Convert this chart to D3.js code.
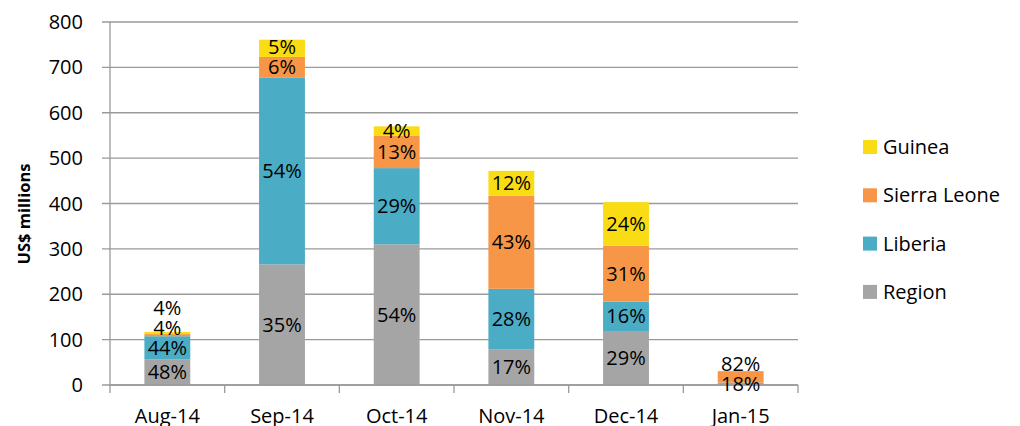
<!DOCTYPE html>
<html lang="en">
<head>
  <meta charset="UTF-8">
  <title>US$ millions by month</title>
  <script src="https://d3js.org/d3.v7.min.js"></script>
  <style>
    body, html { margin: 0; background: #fff; }
    svg { display: block; font-family: "Open Sans", "Noto Sans", sans-serif; }
  </style>
</head>
<body>
  <svg width="1020" height="426"></svg>
  <script>
    // Data (US$ millions)
    const months = ["Aug-14", "Sep-14", "Oct-14", "Nov-14", "Dec-14", "Jan-15"];
    const seriesNames = ["Region", "Liberia", "Sierra Leone", "Guinea"];
    const region      = [56, 266, 310, 79, 119, 5.5];
    const liberia     = [51.5, 411, 168, 133, 64.5, 0];
    const sierraLeone = [4.7, 46, 71, 205, 123.5, 25];
    const guinea      = [4.7, 38, 21, 55, 96, 0];
    const pctLabels = {
      "Region":       ["48%", "35%", "54%", "17%", "29%", "18%"],
      "Liberia":      ["44%", "54%", "29%", "28%", "16%", ""],
      "Sierra Leone": ["4%", "6%", "13%", "43%", "31%", "82%"],
      "Guinea":       ["4%", "5%", "4%", "12%", "24%", ""]
    };
    const yTicks = [0, 100, 200, 300, 400, 500, 600, 700, 800];

    const colors = {
      "Region": "#a5a5a5",
      "Liberia": "#4bacc6",
      "Sierra Leone": "#f79646",
      "Guinea": "#fadc14"
    };

    const table = months.map((m, i) => ({
      month: m,
      "Region": region[i],
      "Liberia": liberia[i],
      "Sierra Leone": sierraLeone[i],
      "Guinea": guinea[i]
    }));

    const svg = d3.select("svg");
    const margin = {top: 22, left: 110, right: 222, bottom: 41};
    const width = 1020 - margin.left - margin.right,
          height = 426 - margin.top - margin.bottom;

    const x = d3.scaleBand().domain(months).range([0, width]).paddingInner(0.6).paddingOuter(0.3);
    const y = d3.scaleLinear().domain([0, 800]).range([height, 0]);

    const g = svg.append("g").attr("transform", `translate(${margin.left},${margin.top})`);

    // gridlines
    g.append("g")
      .selectAll("line")
      .data(yTicks)
      .join("line")
      .attr("x1", -8).attr("x2", width)
      .attr("y1", d => y(d)).attr("y2", d => y(d))
      .attr("stroke", "#9a9a9a").attr("stroke-width", 1.3);

    // y axis line + labels
    g.append("line").attr("x1", 0).attr("x2", 0).attr("y1", 0).attr("y2", height)
      .attr("stroke", "#9a9a9a").attr("stroke-width", 1.3);
    g.append("g").selectAll("text")
      .data(yTicks)
      .join("text")
      .attr("x", -27).attr("y", d => y(d))
      .attr("dy", "0.35em").attr("text-anchor", "end")
      .attr("font-size", 20).attr("fill", "#000")
      .text(d => d);

    // stacked bars
    const stack = d3.stack().keys(seriesNames)(table);
    const layer = g.append("g").selectAll("g")
      .data(stack)
      .join("g")
      .attr("fill", d => colors[d.key]);
    layer.selectAll("rect")
      .data(d => d)
      .join("rect")
      .attr("x", d => x(d.data.month))
      .attr("width", x.bandwidth())
      .attr("y", d => y(d[1]))
      .attr("height", d => y(d[0]) - y(d[1]));

    // x axis
    g.append("line").attr("x1", 0).attr("x2", width).attr("y1", height).attr("y2", height)
      .attr("stroke", "#9a9a9a").attr("stroke-width", 1.3);
    g.append("g").selectAll("line")
      .data(d3.range(months.length + 1))
      .join("line")
      .attr("x1", i => i * width / months.length).attr("x2", i => i * width / months.length)
      .attr("y1", height).attr("y2", height + 8)
      .attr("stroke", "#9a9a9a").attr("stroke-width", 1.3);
    g.append("g").selectAll("text")
      .data(months)
      .join("text")
      .attr("x", d => x(d) + x.bandwidth() / 2)
      .attr("y", height + 38)
      .attr("text-anchor", "middle")
      .attr("font-size", 20)
      .text(d => d);

    // data labels: centred in segment, pushed up so they don't overlap
    const labels = [];
    months.forEach((m, i) => {
      let prev = Infinity;
      stack.forEach(s => {
        const txt = pctLabels[s.key][i];
        if (!txt) return;
        const seg = s[i];
        let cy = (y(seg[0]) + y(seg[1])) / 2;
        if (cy > prev - 20) cy = prev - 20;
        prev = cy;
        labels.push({month: m, cy, txt});
      });
    });
    g.append("g").selectAll("text")
      .data(labels)
      .join("text")
      .attr("x", d => x(d.month) + x.bandwidth() / 2)
      .attr("y", d => d.cy)
      .attr("dy", "0.35em")
      .attr("text-anchor", "middle")
      .attr("font-size", 20)
      .text(d => d.txt);

    // y axis title
    svg.append("text")
      .attr("transform", "translate(30,214) rotate(-90)")
      .attr("text-anchor", "middle")
      .attr("font-size", 16.5).attr("font-weight", "bold")
      .text("US$ millions");

    // legend
    const legend = svg.append("g").attr("transform", "translate(863,147)")
      .selectAll("g")
      .data(seriesNames.slice().reverse())
      .join("g")
      .attr("transform", (d, i) => `translate(0,${i * 48.3})`);
    legend.append("rect").attr("x", 0).attr("y", -7).attr("width", 14).attr("height", 14)
      .attr("fill", d => colors[d]);
    legend.append("text").attr("x", 20).attr("dy", "0.35em")
      .attr("font-size", 20).text(d => d);
  </script>
</body>
</html>
